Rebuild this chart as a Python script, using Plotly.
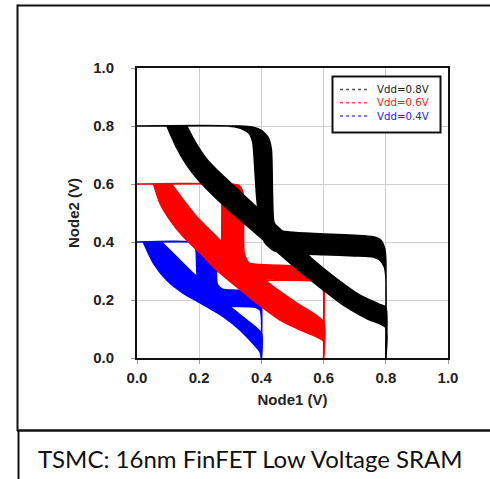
import plotly.graph_objects as go

# ---------------- data ----------------
TICK_VALUES = [0.0, 0.2, 0.4, 0.6, 0.8, 1.0]
TICK_LABELS = ["0.0", "0.2", "0.4", "0.6", "0.8", "1.0"]
SERIES_NAMES = ["Vdd=0.8V", "Vdd=0.6V", "Vdd=0.4V"]
CAPTION = "TSMC: 16nm FinFET Low Voltage SRAM"
X_TITLE = "Node1 (V)"
Y_TITLE = "Node2 (V)"

# Vdd = 0.8 V : curve A (Node1 as function of Node2), edges of the Monte-Carlo band
V08_A_OUTER_X = [0.16, 0.19, 0.225, 0.27, 0.33, 0.40, 0.48, 0.56, 0.64, 0.72, 0.78, 0.80, 0.80]
V08_A_OUTER_Y = [0.80, 0.74, 0.685, 0.635, 0.575, 0.505, 0.425, 0.345, 0.275, 0.215, 0.185, 0.175, 0.0]
V08_A_INNER_X = [0.096, 0.125, 0.16, 0.20, 0.25, 0.30, 0.36, 0.42, 0.50, 0.58, 0.66, 0.74, 0.80, 0.80]
V08_A_INNER_Y = [0.80, 0.73, 0.665, 0.61, 0.555, 0.505, 0.45, 0.395, 0.32, 0.25, 0.185, 0.135, 0.105, 0.0]
# Vdd = 0.8 V : curve B (Node2 as function of Node1)
V08_B_OUTER_X = [0.0, 0.33, 0.37, 0.40, 0.422, 0.432, 0.436, 0.44, 0.455, 0.50, 0.60, 0.70, 0.76, 0.785, 0.797, 0.80, 0.80]
V08_B_OUTER_Y = [0.80, 0.80, 0.797, 0.785, 0.76, 0.72, 0.55, 0.47, 0.44, 0.434, 0.428, 0.423, 0.418, 0.405, 0.375, 0.34, 0.0]
V08_B_INNER_X = [0.0, 0.29, 0.33, 0.36, 0.372, 0.376, 0.385, 0.395, 0.41, 0.44, 0.50, 0.60, 0.70, 0.76, 0.78, 0.795, 0.80, 0.80]
V08_B_INNER_Y = [0.80, 0.80, 0.793, 0.775, 0.745, 0.70, 0.55, 0.46, 0.40, 0.37, 0.36, 0.356, 0.352, 0.348, 0.338, 0.315, 0.28, 0.0]

# Vdd = 0.6 V
V06_A_OUTER_X = [0.111, 0.149, 0.192, 0.245, 0.299, 0.363, 0.438, 0.514, 0.60, 0.60]
V06_A_OUTER_Y = [0.60, 0.545, 0.487, 0.43, 0.372, 0.315, 0.246, 0.189, 0.125, 0.0]
V06_A_INNER_X = [0.053, 0.074, 0.106, 0.149, 0.203, 0.256, 0.32, 0.385, 0.46, 0.524, 0.60, 0.60]
V06_A_INNER_Y = [0.60, 0.533, 0.476, 0.418, 0.361, 0.303, 0.246, 0.189, 0.131, 0.097, 0.058, 0.0]
V06_B_OUTER_X = [0.0, 0.30, 0.328, 0.34, 0.343, 0.345, 0.36, 0.40, 0.50, 0.575, 0.592, 0.60, 0.60]
V06_B_OUTER_Y = [0.60, 0.60, 0.595, 0.575, 0.50, 0.36, 0.328, 0.322, 0.318, 0.315, 0.303, 0.28, 0.0]
V06_B_INNER_X = [0.0, 0.25, 0.266, 0.272, 0.274, 0.29, 0.33, 0.45, 0.58, 0.597, 0.60, 0.60]
V06_B_INNER_Y = [0.60, 0.60, 0.592, 0.57, 0.35, 0.29, 0.272, 0.268, 0.264, 0.25, 0.22, 0.0]

# Vdd = 0.4 V
V04_A_OUTER_X = [0.079, 0.127, 0.181, 0.235, 0.299, 0.353, 0.40, 0.40]
V04_A_OUTER_Y = [0.40, 0.349, 0.292, 0.246, 0.177, 0.131, 0.085, 0.0]
V04_A_INNER_X = [0.02, 0.053, 0.095, 0.149, 0.203, 0.277, 0.331, 0.395, 0.40]
V04_A_INNER_Y = [0.40, 0.326, 0.269, 0.223, 0.19, 0.143, 0.097, 0.022, 0.0]
V04_B_OUTER_X = [0.0, 0.205, 0.235, 0.25, 0.255, 0.258, 0.275, 0.32, 0.38, 0.394, 0.40, 0.40]
V04_B_OUTER_Y = [0.40, 0.40, 0.395, 0.375, 0.33, 0.255, 0.237, 0.234, 0.232, 0.222, 0.20, 0.0]
V04_B_INNER_X = [0.0, 0.17, 0.186, 0.19, 0.193, 0.205, 0.235, 0.30, 0.38, 0.396, 0.40, 0.40]
V04_B_INNER_Y = [0.40, 0.40, 0.39, 0.37, 0.29, 0.22, 0.185, 0.178, 0.175, 0.165, 0.14, 0.0]

# ---------------- styling ----------------
COLORS = {"Vdd=0.8V": "#000000", "Vdd=0.6V": "#ff0000", "Vdd=0.4V": "#0000ff"}
LEGEND_LINE_COLORS = ["#555555", "#ff5050", "#5050ff"]
LEGEND_TEXT_COLORS = ["#222222", "#ff1a1a", "#1a1aff"]

W, H = 490, 479
PL, PR, PT, PB = 137, 448, 68, 358  # plot area in pixels


def px2x(px):
    return (px - PL) / (PR - PL)


def py2y(py):
    return (PB - py) / (PB - PT)


bands = [
    ("Vdd=0.4V", V04_A_OUTER_X, V04_A_OUTER_Y, V04_A_INNER_X, V04_A_INNER_Y),
    ("Vdd=0.4V", V04_B_OUTER_X, V04_B_OUTER_Y, V04_B_INNER_X, V04_B_INNER_Y),
    ("Vdd=0.6V", V06_A_OUTER_X, V06_A_OUTER_Y, V06_A_INNER_X, V06_A_INNER_Y),
    ("Vdd=0.6V", V06_B_OUTER_X, V06_B_OUTER_Y, V06_B_INNER_X, V06_B_INNER_Y),
    ("Vdd=0.8V", V08_A_OUTER_X, V08_A_OUTER_Y, V08_A_INNER_X, V08_A_INNER_Y),
    ("Vdd=0.8V", V08_B_OUTER_X, V08_B_OUTER_Y, V08_B_INNER_X, V08_B_INNER_Y),
]

fig = go.Figure()
for name, ox, oy, ix, iy in bands:
    c = COLORS[name]
    fig.add_trace(go.Scatter(
        x=list(ox) + list(ix)[::-1],
        y=list(oy) + list(iy)[::-1],
        mode="lines", fill="toself", fillcolor=c,
        line=dict(color=c, width=1.5, shape="spline", smoothing=0.6),
        name=name, showlegend=False, hoverinfo="skip",
    ))

tick_font = dict(family="Arial, 'Liberation Sans', sans-serif", size=15, color="#222222", weight="bold")
title_font = dict(family="Arial, 'Liberation Sans', sans-serif", size=15, color="#222222", weight="bold")

axis_common = dict(
    range=[0, 1.0], tickmode="array", tickvals=TICK_VALUES, ticktext=TICK_LABELS,
    showgrid=True, gridcolor="#cfcfcf", gridwidth=1, zeroline=False,
    showline=True, linecolor="#111111", linewidth=2, mirror=True,
    ticks="outside", ticklen=4, tickcolor="#999999", tickfont=tick_font,
    fixedrange=True,
)

fig.update_layout(
    width=W, height=H,
    margin=dict(l=PL, r=W - PR, t=PT, b=H - PB, pad=0),
    paper_bgcolor="white", plot_bgcolor="white",
    showlegend=False,
    xaxis=dict(axis_common, title=dict(text=X_TITLE, font=title_font, standoff=9), ticklabelstandoff=1),
    yaxis=dict(axis_common, title=dict(text=Y_TITLE, font=title_font, standoff=10), ticklabelstandoff=14),
)

shapes = []
# outer frame of the figure panel
shapes.append(dict(type="line", xref="paper", yref="paper", x0=px2x(17.5), x1=px2x(495), y0=py2y(5.5), y1=py2y(5.5), line=dict(color="#111", width=2)))
shapes.append(dict(type="line", xref="paper", yref="paper", x0=px2x(17.5), x1=px2x(17.5), y0=py2y(4.5), y1=py2y(431), line=dict(color="#111", width=2)))
shapes.append(dict(type="line", xref="paper", yref="paper", x0=px2x(17), x1=px2x(495), y0=py2y(430.5), y1=py2y(430.5), line=dict(color="#111", width=2.5)))
shapes.append(dict(type="line", xref="paper", yref="paper", x0=px2x(18.5), x1=px2x(18.5), y0=py2y(431), y1=py2y(485), line=dict(color="#111", width=2)))
# legend box
shapes.append(dict(type="rect", xref="paper", yref="paper", x0=px2x(332.5), x1=px2x(440.5), y0=py2y(76.5), y1=py2y(132.5),
                   line=dict(color="#111", width=2), fillcolor="white", layer="above"))
legend_rows = [89.4, 102.7, 116.0]
for i, name in enumerate(SERIES_NAMES):
    yy = py2y(legend_rows[i])
    shapes.append(dict(type="line", xref="paper", yref="paper", x0=px2x(340), x1=px2x(368), y0=yy, y1=yy,
                       line=dict(color=LEGEND_LINE_COLORS[i], width=1.5, dash="dot")))

legend_text = "<br>".join(
    f"<span style='color:{LEGEND_TEXT_COLORS[i]}'>{name}</span>" for i, name in enumerate(SERIES_NAMES)
)
annotations = [
    dict(text=legend_text, xref="paper", yref="paper", x=px2x(376), y=py2y(legend_rows[1]),
         xanchor="left", yanchor="middle", align="left", showarrow=False, borderpad=0,
         font=dict(family="'DejaVu Sans', sans-serif", size=10.2, color="#222222")),
    dict(text=CAPTION, xref="paper", yref="paper", x=px2x(250), y=py2y(458), xanchor="center", yanchor="middle",
         showarrow=False, font=dict(family="Lato, 'Open Sans', sans-serif", size=24, color="#111111")),
]

fig.update_layout(shapes=shapes, annotations=annotations)

fig.write_html("out.html", config={"displayModeBar": False},
               post_script="document.body.style.margin='0';")
